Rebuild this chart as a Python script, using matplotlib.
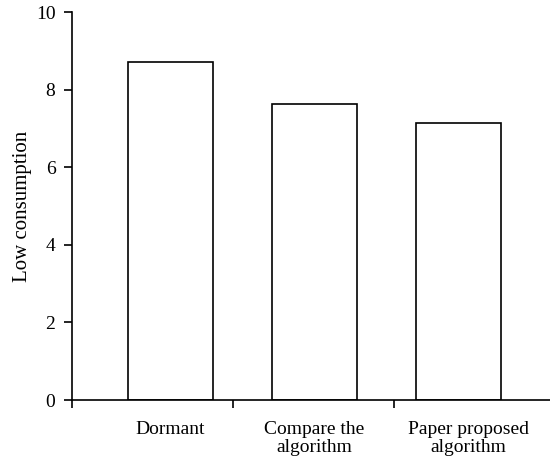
import numpy as np
import matplotlib.pyplot as plt

categories = ["Dormant", "Compare the\nalgorithm", "Paper proposed\nalgorithm"]
values = [8.72, 7.63, 7.13]
yticks = [0, 2, 4, 6, 8, 10]

plt.rcParams['font.family'] = ['Liberation Serif', 'DejaVu Serif']

fig = plt.figure(figsize=(5.5, 4.62), dpi=100)
ax = fig.add_axes([0.131, 0.134, 0.869, 0.840])

x = np.arange(len(categories))
ax.bar(x, values, width=0.59, color='white', edgecolor='black', linewidth=1.2)

ax.set_xlim(-0.684, 2.635)
ax.set_ylim(0, 10)
ax.set_yticks(yticks)
ax.set_ylabel("Low consumption", fontsize=15, labelpad=3)

# category labels under bars, separator ticks between categories
ax.set_xticks([0, 1, 2.07])
ax.set_xticklabels(categories, fontsize=14, linespacing=1.1)
ax.tick_params(axis='x', which='major', length=0, pad=15)
ax.set_xticks([-0.684, 0.434, 1.552], minor=True)
ax.tick_params(axis='x', which='minor', length=6, width=1.2, direction='out')
ax.tick_params(axis='y', length=6, width=1.2, direction='out', labelsize=14, pad=6)

for s in ['top', 'right']:
    ax.spines[s].set_visible(False)
for s in ['left', 'bottom']:
    ax.spines[s].set_linewidth(1.2)

fig.savefig("out.png", dpi=100)
